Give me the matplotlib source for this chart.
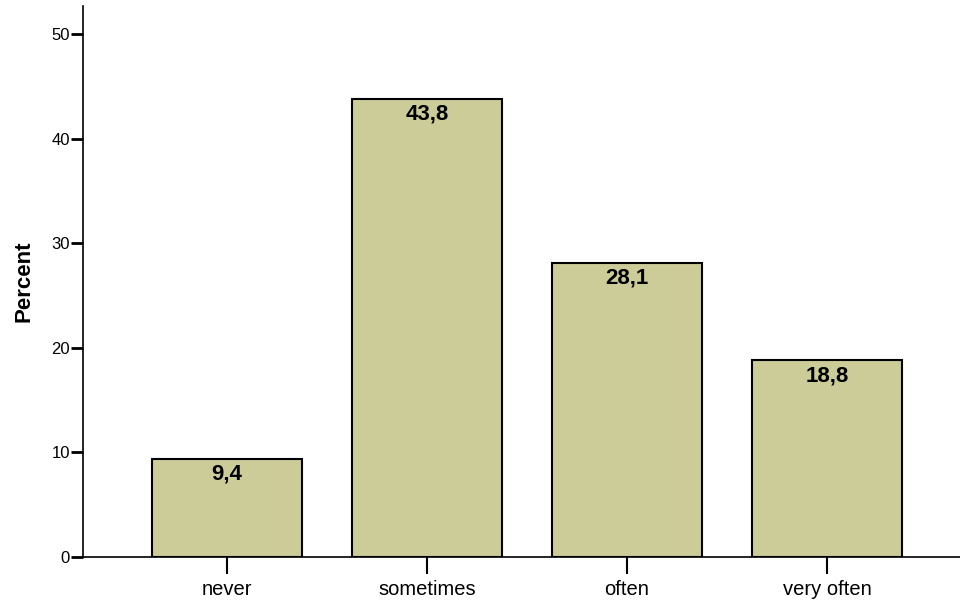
import matplotlib
matplotlib.use("Agg")
import matplotlib.pyplot as plt

categories = ["never", "sometimes", "often", "very often"]
percent = [9.4, 43.8, 28.1, 18.8]
bar_labels = ["9,4", "43,8", "28,1", "18,8"]
y_ticks = [0, 10, 20, 30, 40, 50]

plt.rcParams['font.family'] = ['Liberation Sans', 'DejaVu Sans']

fig = plt.figure(figsize=(9.6, 6.05), dpi=100)
ax = fig.add_axes([83 / 960, 48 / 605, 1 - 83 / 960, (557 - 6) / 605])

x = range(len(categories))
bars = ax.bar(x, percent, width=0.75, color='#cccc99', edgecolor='black', linewidth=1.5, zorder=2)

for rect, lab in zip(bars, bar_labels):
    ax.annotate(lab, (rect.get_x() + rect.get_width() / 2, rect.get_height()),
                xytext=(0, -3.5), textcoords='offset points', ha='center', va='top',
                fontsize=16, fontweight='bold')

ax.set_xlim(-0.72, 3.665)
ax.set_ylim(0, 52.68)
ax.set_xticks(list(x))
ax.set_xticklabels(categories, fontsize=14.5)
ax.set_yticks(y_ticks)
ax.set_yticklabels([str(t) for t in y_ticks], fontsize=12)
ax.tick_params(axis='y', length=8.5, width=2, pad=1)
ax.tick_params(axis='x', length=12, width=1.5, pad=4.5)

for s in ['top', 'right']:
    ax.spines[s].set_visible(False)
ax.spines['left'].set_linewidth(1.2)
ax.spines['bottom'].set_linewidth(1.2)

ax.set_ylabel("Percent", fontsize=16, fontweight='bold', labelpad=12)

fig.savefig("out.png", dpi=100)
